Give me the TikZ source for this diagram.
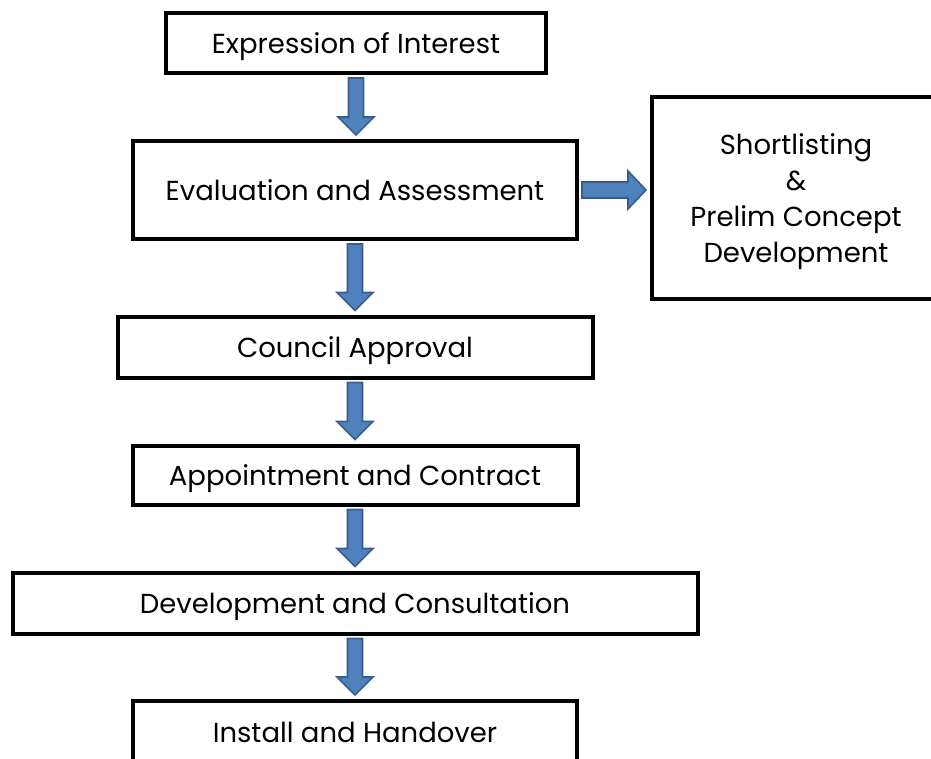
\documentclass[tikz,border=0pt]{standalone}
\usepackage{fontspec}
\setmainfont{Poppins}
\usetikzlibrary{calc}
\definecolor{arrowfill}{RGB}{79,129,189}
\definecolor{arrowline}{RGB}{56,93,138}
\tikzset{stage/.style={draw=black,line width=4pt,fill=white,inner sep=0pt,
            text height=25pt,text depth=4pt,font=\fontsize{27.5}{36}\selectfont},
         blockarr/.style={fill=arrowfill,draw=arrowline,line width=1.6pt,line join=miter}}
% vertical block arrow from the foot of one box to the top of the next
\newcommand{\vblock}[2]{%
  \draw[blockarr] let \p1=(#1.south), \p2=(#2.north) in
    (\x1-7.5pt,\y1-3pt) -- (\x1+7.5pt,\y1-3pt) -- (\x1+7.5pt,\y2+22pt)
    -- (\x1+18pt,\y2+22pt) -- (\x1,\y2+4pt) -- (\x1-18pt,\y2+22pt)
    -- (\x1-7.5pt,\y2+22pt) -- cycle;}
% horizontal block arrow
\newcommand{\hblock}[2]{%
  \draw[blockarr] let \p1=(#1.east), \p2=(#2.west) in
    (\x1+3pt,\y1-8pt) -- (\x1+3pt,\y1+8pt) -- (\x2-22pt,\y1+8pt)
    -- (\x2-22pt,\y1+19pt) -- (\x2-4pt,\y1) -- (\x2-22pt,\y1-19pt)
    -- (\x2-22pt,\y1-8pt) -- cycle;}
\begin{document}
\begin{tikzpicture}[x=1pt,y=1pt]
\useasboundingbox (0,0) rectangle (931,-758);
\begin{scope}
\clip (0,0) rectangle (931,-758);

\node[stage,minimum width=380pt,minimum height=60pt] (interest) at (356,-43) {Expression of Interest};
\node[stage,minimum width=444pt,minimum height=98pt] (evaluation) at (355,-190) {Evaluation and Assessment};
\node[stage,minimum width=288pt,minimum height=202pt,align=center,text height=,text depth=-3pt]
    (shortlist) at (796,-198) {Shortlisting\\\&\\Prelim Concept\\Development};
\node[stage,minimum width=475pt,minimum height=61pt] (council) at (355,-347) {Council Approval};
\node[stage,minimum width=445pt,minimum height=59pt] (contract) at (355,-475) {Appointment and Contract};
\node[stage,minimum width=685pt,minimum height=61pt] (consult) at (355,-603) {Development and Consultation};
\node[stage,minimum width=444pt,minimum height=62pt] (handover) at (355,-732) {Install and Handover};

\vblock{interest}{evaluation}
\vblock{evaluation}{council}
\vblock{council}{contract}
\vblock{contract}{consult}
\vblock{consult}{handover}
\hblock{evaluation}{shortlist}

\end{scope}
\end{tikzpicture}
\end{document}
